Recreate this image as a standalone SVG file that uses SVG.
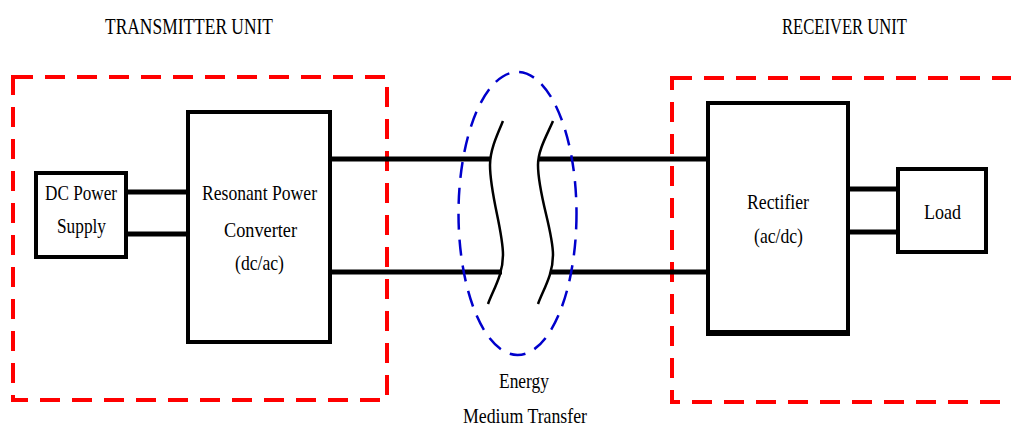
<svg xmlns="http://www.w3.org/2000/svg" width="1011" height="429" viewBox="0 0 1011 429">
<style>
.box{fill:#fff;stroke:#000;stroke-width:4}
.unit{fill:none;stroke:#f00;stroke-width:4;stroke-dasharray:20 12}
.wire{fill:none;stroke:#000;stroke-width:5}
.wave{fill:none;stroke:#000;stroke-width:2.5}
text{font-family:"Liberation Serif","Times New Roman",serif;font-size:22px;fill:#000}
.title{font-size:24px}
</style>
<rect width="1011" height="429" fill="#fff"/>
<g id="transmitter-unit">
<rect class="unit" x="13" y="77" width="374" height="323"/>
<text class="title" x="105" y="34" textLength="168" lengthAdjust="spacingAndGlyphs">TRANSMITTER UNIT</text>
</g>
<g id="receiver-unit">
<rect class="unit" x="672" y="78" width="370" height="324"/>
<text class="title" x="782" y="34" textLength="125" lengthAdjust="spacingAndGlyphs">RECEIVER UNIT</text>
</g>
<g id="connectors">
<line class="wire" x1="126" y1="192" x2="188" y2="192"/>
<line class="wire" x1="126" y1="234" x2="188" y2="234"/>
<line class="wire" x1="330" y1="159" x2="491" y2="159"/>
<line class="wire" x1="330" y1="272" x2="502" y2="272"/>
<line class="wire" x1="539" y1="159" x2="708" y2="159"/>
<line class="wire" x1="550" y1="272" x2="708" y2="272"/>
<line class="wire" x1="848" y1="189" x2="898" y2="189" stroke-width="7"/>
<line class="wire" x1="848" y1="232" x2="898" y2="232"/>
</g>
<g id="energy-medium">
<ellipse cx="517.5" cy="213.5" rx="59" ry="141.5" fill="none" stroke="#0000cc" stroke-width="2.5" stroke-dasharray="16 10"/>
<path class="wave" d="M503,121 C497,135 490,150 490,165 C490,195 503,230 503,255 C503,275 493,290 488,304"/>
<path class="wave" d="M553,121 C547,135 538,150 538,165 C538,195 553,230 553,255 C553,275 543,290 538,304"/>
<text x="499" y="388" textLength="50" lengthAdjust="spacingAndGlyphs">Energy</text>
<text x="463" y="423" textLength="124" lengthAdjust="spacingAndGlyphs">Medium Transfer</text>
</g>
<g id="dc-power-supply">
<rect class="box" x="36" y="173" width="90" height="84"/>
<text x="45" y="200" textLength="72" lengthAdjust="spacingAndGlyphs">DC Power</text>
<text x="57" y="233" textLength="49" lengthAdjust="spacingAndGlyphs">Supply</text>
</g>
<g id="resonant-converter">
<rect class="box" x="188" y="112" width="142" height="230"/>
<text x="202" y="200" textLength="115" lengthAdjust="spacingAndGlyphs">Resonant Power</text>
<text x="224" y="237" textLength="73" lengthAdjust="spacingAndGlyphs">Converter</text>
<text x="235" y="270" textLength="49" lengthAdjust="spacingAndGlyphs">(dc/ac)</text>
</g>
<g id="rectifier">
<rect class="box" x="708" y="103" width="140" height="230"/>
<line x1="706" y1="333" x2="850" y2="333" stroke="#000" stroke-width="6"/>
<text x="747" y="209" textLength="62" lengthAdjust="spacingAndGlyphs">Rectifier</text>
<text x="754" y="243" textLength="49" lengthAdjust="spacingAndGlyphs">(ac/dc)</text>
</g>
<g id="load">
<rect class="box" x="898" y="169" width="88" height="83"/>
<text x="924" y="219" textLength="37" lengthAdjust="spacingAndGlyphs">Load</text>
</g>
</svg>
